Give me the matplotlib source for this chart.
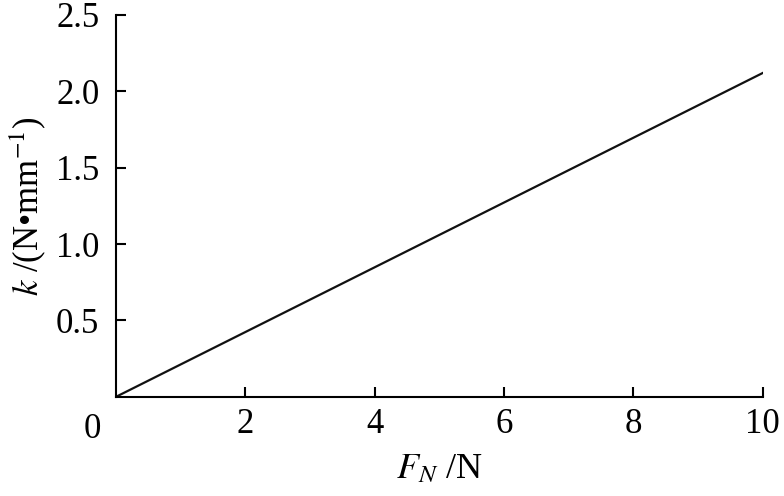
import matplotlib
matplotlib.use("Agg")
import matplotlib.pyplot as plt

plt.rcParams['font.family'] = ['Liberation Serif', 'DejaVu Serif']
plt.rcParams['mathtext.fontset'] = 'stix'

force_N = [0, 10]
stiffness = [0.0, 2.12]
x_ticks = [2, 4, 6, 8, 10]
x_tick_labels = ['2', '4', '6', '8', '10']
y_ticks = [0.5, 1.0, 1.5, 2.0, 2.5]
y_tick_labels = ['0.5', '1.0', '1.5', '2.0', '2.5']

fs = 25
fig = plt.figure(figsize=(7.84, 4.96), dpi=100)
ax = fig.add_axes([0.148, 0.2, 0.825, 0.77])
ax.plot(force_N, stiffness, color='#111111', lw=1.6)
ax.set_xlim(0, 10)
ax.set_ylim(0, 2.5)
ax.set_xticks(x_ticks)
ax.set_xticklabels(x_tick_labels)
ax.set_yticks(y_ticks)
ax.set_yticklabels(y_tick_labels)
for s in ['top', 'right']:
    ax.spines[s].set_visible(False)
for s in ['left', 'bottom']:
    ax.spines[s].set_linewidth(1.5)
ax.tick_params(direction='in', length=7, width=1.5, labelsize=fs, pad=8)
ax.tick_params(axis='y', pad=12)
ax.text(-0.036, -0.042, '0', transform=ax.transAxes, ha='center', va='top', fontsize=fs)
ax.set_xlabel(r'$F_N$ /N', fontsize=26, labelpad=9)
ax.set_ylabel(r'$k$ /(N•mm$^{-1}$)', fontsize=fs, labelpad=6)
fig.savefig('out.png', dpi=100)
